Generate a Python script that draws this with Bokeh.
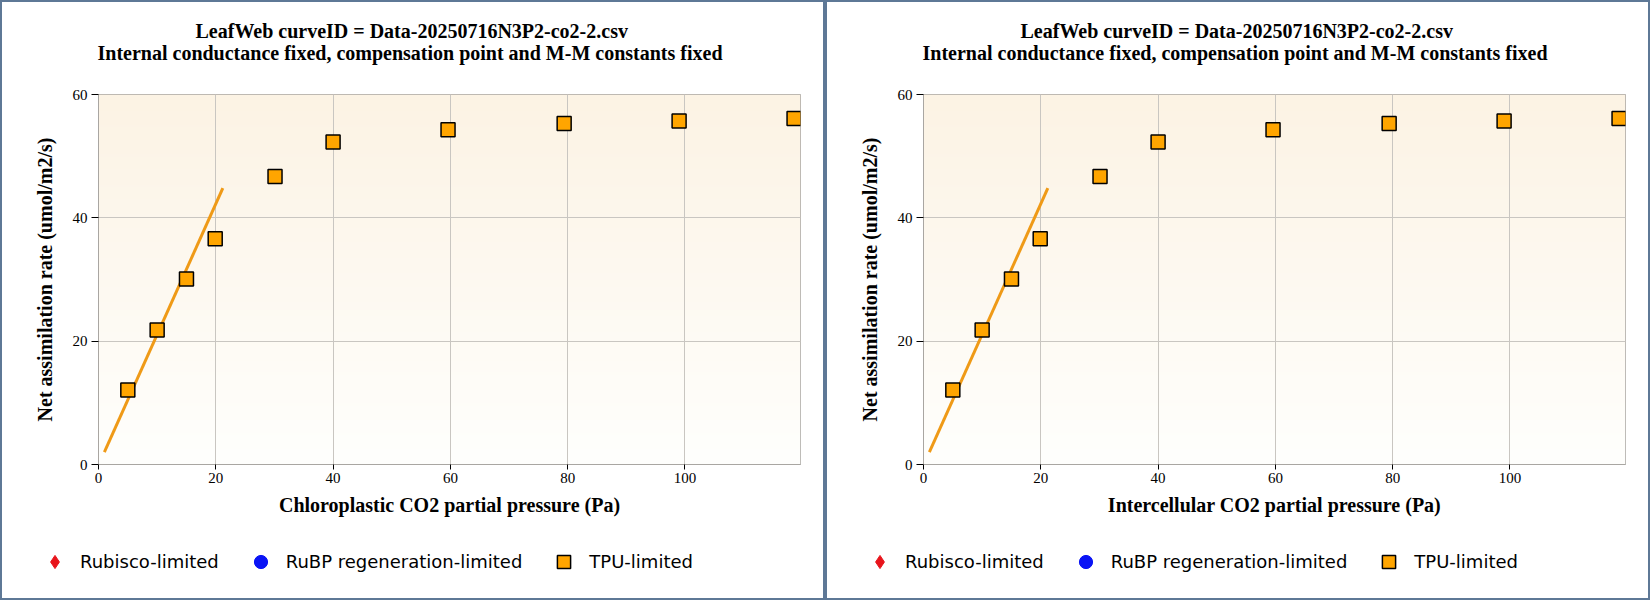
import numpy as np
from bokeh.plotting import figure
from bokeh.models import (FixedTicker, Legend, LegendItem, Title, ColumnDataSource)
from bokeh.layouts import row, column
from bokeh.embed import file_html
from bokeh.resources import INLINE

# ---- data ----
tpu_ci = [5.0, 10.0, 15.0, 19.9, 30.1, 40.0, 59.6, 79.4, 99.0, 118.6]
tpu_a = [12.1, 21.8, 30.1, 36.6, 46.7, 52.3, 54.3, 55.3, 55.7, 56.1]
rubisco_curve_ci = [1.0, 21.2]
rubisco_curve_a = [2.0, 44.8]
# no Rubisco- or RuBP-limited points in this fit
rubisco_ci = [float("nan")]
rubisco_a = [float("nan")]
rubp_ci = [float("nan")]
rubp_a = [float("nan")]
x_ticks = [0, 20, 40, 60, 80, 100]
y_ticks = [0, 20, 40, 60]
x_max = 119.7
y_max = 60
title_line1 = "LeafWeb curveID = Data-20250716N3P2-co2-2.csv"
title_line2 = "Internal conductance fixed, compensation point and M-M constants fixed"
y_label = "Net assimilation rate (umol/m2/s)"
x_labels = ["Chloroplastic CO2 partial pressure (Pa)",
            "Intercellular CO2 partial pressure (Pa)"]
legend_labels = ["Rubisco-limited", "RuBP regeneration-limited", "TPU-limited"]

SERIF = "Liberation Serif"
SANS = "DejaVu Sans"
FRAME_GRAY = "#a9a6a2"
RUB_COLOR = "#e8141b"
RUBP_COLOR = "#0a14f5"
TPU_COLOR = "#ffa500"

PANEL_W = 821
PLOT_H = 530
LEGEND_H = 66


def gradient_image():
    n = 256
    top = np.array([252, 243, 228], dtype=float)
    bot = np.array([255, 255, 253], dtype=float)
    t = np.linspace(0, 1, n)[:, None]  # row 0 = bottom
    cols = bot * (1 - t) + top * t
    img = np.empty((n, 1), dtype=np.uint32)
    view = img.view(dtype=np.uint8).reshape((n, 1, 4))
    view[:, 0, 0] = cols[:, 0]
    view[:, 0, 1] = cols[:, 1]
    view[:, 0, 2] = cols[:, 2]
    view[:, 0, 3] = 255
    return img


def make_plot(xlabel):
    p = figure(width=PANEL_W, height=PLOT_H, output_backend="svg", toolbar_location=None,
               x_range=(0, x_max), y_range=(0, y_max),
               min_border_left=96, min_border_right=23,
               min_border_top=92, min_border_bottom=PLOT_H - 462,
               background_fill_color="white", border_fill_color="white")
    p.outline_line_color = FRAME_GRAY
    p.outline_line_width = 1

    # background gradient
    r_img = p.image_rgba(image=[gradient_image()], x=0, y=0, dw=x_max, dh=y_max)
    r_img.level = "image"

    # titles (closest to the plot added first); first one is only a spacer
    spacer = Title(text=" ", standoff=4, text_font=SERIF, text_font_size="20px")
    t2 = Title(text=title_line2, align="left", offset=-1, standoff=1,
               vertical_align="top",
               text_font=SERIF, text_font_size="20px", text_font_style="bold",
               text_color="black")
    t1 = Title(text=title_line1, align="left", offset=97, standoff=0,
               text_font=SERIF, text_font_size="20px", text_font_style="bold",
               text_color="black")
    p.add_layout(spacer, "above")
    p.add_layout(t2, "above")
    p.add_layout(t1, "above")

    # axes
    for ax in (p.xaxis[0], p.yaxis[0]):
        ax.axis_line_color = FRAME_GRAY
        ax.major_tick_line_color = "black"
        ax.minor_tick_line_color = None
        ax.major_tick_in = 0
        ax.major_label_text_font = SERIF
        ax.major_label_text_font_size = "15px"
        ax.major_label_text_color = "black"
        ax.axis_label_text_font = SERIF
        ax.axis_label_text_font_size = "20px"
        ax.axis_label_text_font_style = "bold"
        ax.axis_label_text_color = "black"
    p.xaxis.ticker = FixedTicker(ticks=x_ticks)
    p.yaxis.ticker = FixedTicker(ticks=y_ticks)
    p.xaxis.major_tick_out = 5
    p.yaxis.major_tick_out = 7
    p.xaxis.major_label_standoff = 3
    p.yaxis.major_label_standoff = 4
    p.xaxis.axis_label = xlabel
    p.yaxis.axis_label = y_label
    p.xaxis.axis_label_standoff = 8
    p.yaxis.axis_label_standoff = 14

    # grid
    p.grid.grid_line_color = "#c9c6c1"
    p.grid.grid_line_width = 1
    p.xgrid.ticker = FixedTicker(ticks=x_ticks)
    p.ygrid.ticker = FixedTicker(ticks=y_ticks)

    # Rubisco-limited fitted curve
    p.line(rubisco_curve_ci, rubisco_curve_a, line_color="#ef9a17", line_width=3)

    # TPU-limited points
    src = ColumnDataSource(dict(x=tpu_ci, y=tpu_a))
    p.scatter("x", "y", source=src, marker="square", size=14,
              fill_color=TPU_COLOR, line_color="black", line_width=1.5)
    return p


def make_legend_fig():
    lf = figure(width=PANEL_W, height=LEGEND_H, output_backend="svg",
                toolbar_location=None, x_range=(0, 1), y_range=(0, 1),
                x_axis_type=None, y_axis_type=None, min_border=0,
                background_fill_color="white", border_fill_color="white")
    lf.outline_line_color = None
    lf.grid.visible = False
    r_rub = lf.scatter(x=rubisco_ci, y=rubisco_a, marker="diamond", size=11,
                       fill_color=RUB_COLOR, line_color=RUB_COLOR)
    r_rubp = lf.scatter(x=rubp_ci, y=rubp_a, marker="circle", size=13,
                        fill_color=RUBP_COLOR, line_color=RUBP_COLOR)
    r_tpu = lf.scatter(x=[tpu_ci[0]], y=[tpu_a[0]], marker="square", size=13,
                       fill_color=TPU_COLOR, line_color="black", line_width=1.5)
    legend = Legend(items=[LegendItem(label=legend_labels[0], renderers=[r_rub]),
                           LegendItem(label=legend_labels[1], renderers=[r_rubp]),
                           LegendItem(label=legend_labels[2], renderers=[r_tpu])],
                    orientation="horizontal", location=(36, 20),
                    glyph_width=33, glyph_height=33, label_standoff=9, spacing=25,
                    padding=0, margin=0,
                    label_text_font=SANS, label_text_font_size="18px",
                    label_text_color="black",
                    background_fill_alpha=0, border_line_color=None)
    lf.add_layout(legend, "center")
    return lf


panels = []
for xl in x_labels:
    panels.append(column(make_plot(xl), row(make_legend_fig()), spacing=0,
                         styles={"background-color": "white"}))

layout = row(*panels, spacing=4,
             styles={"border": "2px solid #5e7896", "background-color": "#5e7896"})

open("out.html", "w").write(file_html(layout, INLINE))
